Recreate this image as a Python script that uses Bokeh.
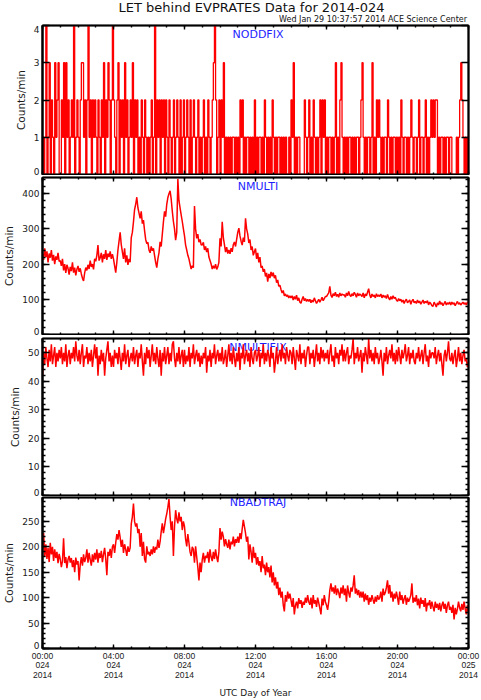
import numpy as np
from bokeh.plotting import figure
from bokeh.layouts import column
from bokeh.models import FixedTicker, LinearAxis, Label, Range1d, Div
from bokeh.embed import file_html
from bokeh.resources import INLINE

# ---------------- text ----------------
TITLE = "LET behind EVPRATES Data for 2014-024"
SUBTITLE = "Wed Jan 29 10:37:57 2014 ACE Science Center"
X_LABEL = "UTC Day of Year"
Y_LABEL = "Counts/min"
PANEL_NAMES = ["NODDFIX", "NMULTI", "NMULTIFIX", "NBADTRAJ"]

# ---------------- x axis (hours of day 024) ----------------
X_TICKS = [0, 4, 8, 12, 16, 20, 24]
X_MINOR_TICKS = list(range(0, 25))
X_TICK_LABELS = ["00:00\n024\n2014", "04:00\n024\n2014", "08:00\n024\n2014",
                 "12:00\n024\n2014", "16:00\n024\n2014", "20:00\n024\n2014",
                 "00:00\n025\n2014"]

# ---------------- data ----------------
SAMPLES_PER_HOUR = 16   # one row per hour, then the value at 00:00 of day 025

NODDFIX_HOURS = [
    "1014013021031230", "0213031201214012", "1023312024120212", "1021021302132024",
    "2102302120312012", "1302120102102101", "0120140212021202", "1021012012102012",
    "0121020121012010", "1201021012342012", "0213010101011010", "1021201011010102",
    "0101101021010102", "1010110101010010", "2130101100002101", "2010210101202120",
    "1011010130102310", "1010110101011012", "3101011013010212", "1010110210101101",
    "0102101101012101", "1012011012010121", "2122010110101101", "1000010123210101",
    "1",
]

NMULTI_HOURS = [
    [228, 212, 245, 220, 236, 205, 230, 218, 240, 210, 226, 200, 222, 212, 232, 208],
    [210, 195, 215, 182, 200, 175, 198, 188, 170, 192, 180, 205, 176, 190, 168, 185],
    [195, 178, 188, 172, 160, 152, 175, 190, 182, 198, 186, 210, 192, 200, 185, 215],
    [208, 225, 254, 210, 218, 232, 205, 228, 215, 240, 212, 230, 220, 236, 215, 228],
    [215, 195, 176, 205, 240, 265, 290, 255, 235, 215, 245, 205, 225, 198, 215, 205],
    [275, 290, 320, 355, 370, 390, 360, 345, 330, 350, 315, 325, 295, 270, 258, 262],
    [240, 232, 250, 238, 245, 225, 205, 190, 215, 232, 263, 250, 285, 320, 350, 335],
    [370, 389, 400, 408, 385, 350, 321, 300, 268, 290, 442, 380, 360, 340, 321, 300],
    [280, 254, 240, 225, 215, 200, 186, 195, 190, 365, 300, 273, 285, 262, 270, 255],
    [254, 262, 240, 250, 234, 245, 220, 210, 200, 186, 195, 188, 200, 185, 192, 205],
    [273, 250, 320, 275, 255, 234, 248, 230, 240, 229, 245, 235, 255, 263, 250, 270],
    [290, 302, 280, 265, 254, 275, 263, 330, 300, 285, 260, 270, 240, 250, 225, 235],
    [244, 215, 232, 205, 220, 190, 195, 178, 186, 165, 175, 150, 172, 160, 178, 165],
    [176, 160, 168, 147, 155, 137, 140, 128, 118, 125, 110, 115, 108, 112, 104, 110],
    [104, 110, 98, 108, 100, 112, 96, 104, 92, 89, 100, 108, 96, 102, 94, 100],
    [94, 100, 90, 98, 92, 104, 96, 88, 94, 100, 92, 98, 106, 96, 102, 108],
    [108, 113, 118, 137, 112, 105, 116, 110, 120, 108, 114, 106, 118, 110, 115, 112],
    [113, 106, 118, 110, 122, 112, 108, 116, 110, 120, 114, 106, 118, 110, 115, 112],
    [108, 118, 104, 115, 110, 120, 130, 112, 104, 115, 108, 112, 104, 116, 108, 112],
    [108, 115, 104, 112, 106, 110, 102, 114, 104, 98, 108, 100, 110, 102, 106, 98],
    [94, 102, 96, 100, 92, 98, 88, 96, 100, 90, 94, 98, 86, 95, 100, 90],
    [94, 88, 98, 90, 95, 86, 92, 98, 88, 94, 90, 96, 84, 92, 88, 82],
    [80, 92, 86, 78, 90, 84, 95, 86, 90, 82, 88, 94, 84, 90, 86, 92],
    [84, 92, 86, 90, 82, 88, 94, 86, 90, 84, 88, 92, 86, 90, 84, 92],
    [90],
]

NMULTIFIX_HOURS = [
    [42, 50, 46, 52, 48, 45, 51, 47, 53, 46, 49, 52, 45, 50, 47, 51],
    [48, 52, 46, 50, 47, 53, 45, 49, 51, 46, 50, 48, 52, 47, 54, 49],
    [47, 51, 46, 50, 53, 45, 49, 48, 52, 46, 50, 47, 51, 45, 49, 53],
    [48, 52, 42, 49, 46, 51, 47, 50, 42, 48, 51, 54, 47, 50, 45, 49],
    [45, 51, 48, 50, 46, 52, 48, 44, 50, 47, 53, 46, 49, 51, 45, 48],
    [50, 47, 52, 46, 49, 51, 45, 50, 48, 53, 47, 42, 50, 46, 52, 48],
    [51, 45, 49, 53, 47, 50, 46, 52, 48, 45, 51, 42, 50, 47, 52, 46],
    [49, 52, 46, 50, 47, 53, 54, 48, 45, 50, 47, 52, 46, 49, 51, 45],
    [51, 46, 49, 47, 52, 45, 50, 48, 53, 46, 49, 51, 47, 50, 45, 49],
    [46, 50, 48, 52, 43, 49, 47, 51, 45, 50, 48, 53, 46, 49, 51, 47],
    [50, 47, 52, 46, 48, 51, 45, 49, 53, 47, 50, 46, 52, 48, 45, 50],
    [47, 52, 44, 50, 48, 53, 46, 49, 51, 47, 50, 45, 52, 48, 46, 50],
    [51, 47, 49, 52, 45, 50, 48, 53, 46, 50, 47, 51, 49, 45, 52, 48],
    [50, 43, 47, 52, 46, 49, 51, 47, 53, 48, 50, 46, 52, 49, 47, 51],
    [50, 46, 52, 48, 44, 51, 49, 47, 53, 46, 50, 48, 51, 45, 49, 52],
    [52, 46, 50, 48, 51, 45, 49, 53, 47, 50, 46, 52, 48, 51, 47, 50],
    [48, 51, 46, 50, 53, 47, 49, 45, 52, 48, 50, 46, 51, 49, 53, 47],
    [51, 47, 50, 52, 46, 49, 48, 51, 55, 46, 50, 48, 52, 47, 49, 51],
    [43, 50, 47, 52, 49, 46, 55, 48, 51, 47, 50, 46, 52, 48, 50, 46],
    [48, 51, 47, 42, 50, 47, 52, 46, 49, 51, 48, 53, 47, 50, 46, 51],
    [47, 52, 49, 46, 51, 48, 50, 53, 47, 49, 52, 46, 50, 48, 51, 47],
    [46, 50, 48, 52, 47, 49, 51, 46, 50, 53, 47, 49, 45, 51, 48, 50],
    [50, 48, 52, 46, 49, 51, 47, 50, 46, 42, 49, 51, 47, 50, 54, 48],
    [47, 50, 46, 49, 51, 45, 48, 52, 47, 50, 46, 49, 51, 47, 48, 45],
    [47],
]

NBADTRAJ_HOURS = [
    [195, 227, 180, 205, 176, 198, 170, 208, 185, 200, 172, 195, 178, 190, 168, 186],
    [176, 160, 172, 217, 168, 180, 158, 175, 182, 169, 178, 160, 174, 150, 179, 165],
    [172, 134, 165, 180, 163, 185, 170, 178, 195, 169, 188, 175, 163, 185, 170, 188],
    [175, 195, 169, 188, 178, 192, 170, 185, 198, 176, 144, 190, 182, 196, 178, 200],
    [205, 188, 208, 225, 214, 233, 218, 200, 214, 188, 205, 195, 182, 201, 190, 198],
    [245, 259, 285, 250, 240, 246, 227, 235, 200, 227, 182, 210, 176, 169, 201, 185],
    [190, 182, 195, 185, 201, 188, 200, 195, 214, 198, 210, 230, 246, 227, 240, 255],
    [265, 278, 294, 259, 233, 250, 182, 240, 272, 255, 246, 268, 250, 259, 233, 250],
    [240, 215, 201, 225, 208, 190, 182, 200, 195, 169, 201, 180, 160, 134, 169, 150],
    [175, 188, 169, 182, 178, 190, 169, 195, 180, 172, 190, 176, 195, 180, 170, 190],
    [237, 214, 230, 220, 201, 215, 205, 198, 214, 195, 210, 205, 220, 201, 215, 208],
    [220, 208, 227, 215, 235, 253, 240, 227, 210, 220, 175, 205, 190, 169, 200, 178],
    [188, 165, 180, 163, 172, 150, 182, 158, 165, 144, 169, 150, 160, 140, 163, 130],
    [150, 124, 140, 118, 131, 105, 120, 100, 112, 86, 73, 105, 92, 112, 98, 108],
    [95, 82, 99, 67, 85, 92, 79, 99, 88, 95, 80, 92, 86, 100, 90, 105],
    [92, 86, 100, 79, 105, 88, 95, 82, 100, 90, 79, 67, 98, 85, 105, 92],
    [85, 76, 92, 115, 128, 112, 120, 108, 124, 105, 118, 110, 99, 120, 108, 124],
    [105, 118, 92, 124, 110, 100, 120, 112, 124, 144, 108, 118, 105, 115, 100, 112],
    [100, 112, 92, 108, 95, 105, 86, 100, 92, 105, 96, 88, 102, 92, 105, 96],
    [100, 112, 92, 118, 105, 110, 120, 134, 108, 125, 100, 112, 92, 108, 98, 112],
    [100, 86, 112, 95, 105, 88, 98, 105, 86, 100, 92, 98, 105, 128, 90, 100],
    [92, 105, 85, 98, 79, 100, 88, 95, 82, 99, 73, 90, 85, 95, 78, 92],
    [82, 73, 92, 80, 88, 76, 90, 73, 85, 92, 78, 88, 70, 85, 92, 76],
    [82, 70, 86, 57, 80, 67, 78, 92, 80, 73, 88, 76, 92, 78, 67, 85],
    [72],
]

# y axes: range top, major ticks, minor ticks
Y_TOPS = [4, 446, 55, 297]
Y_MAJOR = [[0, 1, 2, 3, 4], list(range(0, 401, 100)), list(range(0, 51, 10)), list(range(0, 251, 50))]
Y_MINOR = [[], list(range(0, 441, 20)), list(range(0, 55, 2)), list(range(0, 291, 10))]

# ---------------- layout / style ----------------
WIDTH = 481
BORDER_L, BORDER_R = 37, 13
TITLE_H = 23
# (border_top, frame_height, border_bottom) per panel
GEOM = [(2, 149, 1), (2, 157, 1), (3, 157, 1), (1, 155, 48)]
FONT = "DejaVu Sans"
XFONT = "Liberation Sans"
AXIS_W = 1.6
RED = "#ff0000"
BLUE = "#1e1eff"
TEXT = "#1a1a1a"
LABEL_INSET_PX = 3.5


def flat(rows):
    return [v for row in rows for v in row]


series = [
    ([int(c) for c in "".join(NODDFIX_HOURS)], "step", 1.3),
    (flat(NMULTI_HOURS), "line", 1.5),
    (flat(NMULTIFIX_HOURS), "line", 1.5),
    (flat(NBADTRAJ_HOURS), "line", 1.5),
]


def tick_axis(positions, length):
    """Unlabelled axis drawing only inward tick marks on the frame edge."""
    return LinearAxis(ticker=FixedTicker(ticks=[], minor_ticks=positions),
                      axis_line_color="black", axis_line_width=AXIS_W,
                      major_tick_in=0, major_tick_out=0, major_label_standoff=0,
                      minor_tick_in=length, minor_tick_out=0,
                      minor_tick_line_color="black", minor_tick_line_width=1.4)


title_html = (
    f'<div style="position:relative;width:{WIDTH}px;height:{TITLE_H}px;'
    f"font-family:'DejaVu Sans';color:#111111;\">"
    f'<div style="position:absolute;left:0;top:1px;width:503px;text-align:center;'
    f'font-size:13px;line-height:13px;white-space:nowrap;">{TITLE}</div>'
    f'<div style="position:absolute;right:14px;top:16px;'
    f'font-size:8px;line-height:8px;white-space:nowrap;">{SUBTITLE}</div></div>'
)
header = Div(text=title_html, width=WIDTH, height=TITLE_H, margin=0)

figs = [header]
for i, (vals, kind, lw) in enumerate(series):
    bt, fh, bb = GEOM[i]
    last = i == len(series) - 1
    ytop = Y_TOPS[i]
    p = figure(width=WIDTH, height=bt + fh + bb,
               x_range=Range1d(0, 24), y_range=Range1d(0, ytop),
               output_backend="svg", toolbar_location=None,
               x_axis_location=None, y_axis_location=None,
               min_border_left=BORDER_L, min_border_right=BORDER_R,
               min_border_top=bt, min_border_bottom=bb)
    p.grid.visible = False
    p.outline_line_color = "black"
    p.outline_line_width = AXIS_W
    p.background_fill_color = "white"
    p.border_fill_color = "white"

    # tick marks on all four edges (zero-size axes, added first = next to frame)
    p.add_layout(tick_axis(Y_MAJOR[i], 7), "left")
    p.add_layout(tick_axis(Y_MINOR[i], 3), "left")
    p.add_layout(tick_axis(Y_MAJOR[i], 7), "right")
    p.add_layout(tick_axis(Y_MINOR[i], 3), "right")
    p.add_layout(tick_axis(X_TICKS, 4), "above")
    p.add_layout(tick_axis(X_MINOR_TICKS, 2), "above")
    p.add_layout(tick_axis(X_TICKS, 4), "below")
    p.add_layout(tick_axis(X_MINOR_TICKS, 2), "below")

    # labelled left axis: labels at the ends of the range are nudged inside the frame
    inset = LABEL_INSET_PX * ytop / fh
    lab_pos = []
    for t in Y_MAJOR[i]:
        if t == 0:
            lab_pos.append(t + inset)
        elif t == ytop:
            lab_pos.append(t - inset)
        else:
            lab_pos.append(float(t))
    ya = LinearAxis(ticker=FixedTicker(ticks=lab_pos, minor_ticks=[]),
                    major_label_overrides={pos: str(t) for pos, t in zip(lab_pos, Y_MAJOR[i])},
                    major_tick_in=0, major_tick_out=0, minor_tick_in=0, minor_tick_out=0,
                    axis_line_color="black", axis_line_width=AXIS_W,
                    major_label_text_font=FONT, major_label_text_font_size="9px",
                    major_label_text_color=TEXT, major_label_standoff=3,
                    axis_label=Y_LABEL, axis_label_text_font=FONT,
                    axis_label_text_font_size="10.5px", axis_label_text_font_style="normal",
                    axis_label_text_color=TEXT, axis_label_standoff=4)
    p.add_layout(ya, "left")

    if last:
        xa = LinearAxis(ticker=FixedTicker(ticks=X_TICKS, minor_ticks=[]),
                        major_label_overrides={t: s for t, s in zip(X_TICKS, X_TICK_LABELS)},
                        major_tick_in=0, major_tick_out=0, minor_tick_in=0, minor_tick_out=0,
                        axis_line_color="black", axis_line_width=AXIS_W,
                        major_label_text_font=XFONT, major_label_text_font_size="8.5px",
                        major_label_text_line_height=0.95,
                        major_label_text_color=TEXT, major_label_standoff=2,
                        axis_label=X_LABEL, axis_label_text_font=FONT,
                        axis_label_text_font_size="9px", axis_label_text_font_style="normal",
                        axis_label_text_color=TEXT, axis_label_standoff=5)
        p.add_layout(xa, "below")

    # panel name (drawn under the data)
    p.add_layout(Label(x=(WIDTH - BORDER_L - BORDER_R) / 2, y=fh - 9,
                       x_units="screen", y_units="screen", text=PANEL_NAMES[i],
                       text_align="center", text_baseline="middle",
                       text_font=FONT, text_font_size="11px", text_color=BLUE,
                       level="underlay"))

    x = np.arange(len(vals)) / SAMPLES_PER_HOUR
    if kind == "step":
        p.step(x, vals, mode="after", line_color=RED, line_width=lw)
    else:
        p.line(x, vals, line_color=RED, line_width=lw)
    figs.append(p)

layout = column(*figs, spacing=0)
open("out.html", "w").write(file_html(layout, INLINE))
